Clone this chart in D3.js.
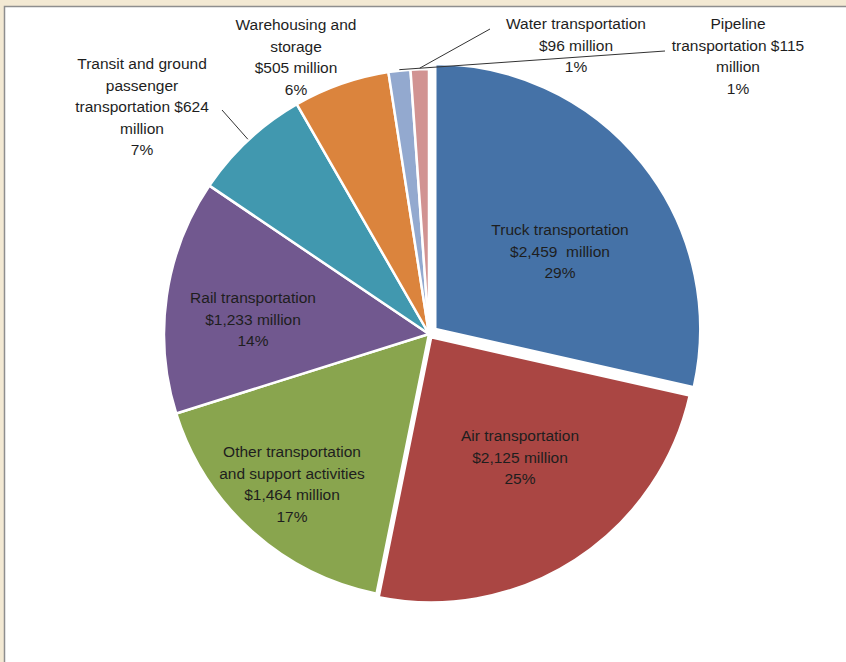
<!DOCTYPE html>
<html lang="en">
<head>
    <meta charset="UTF-8">
    <title>Transportation pie</title>
    <script src="https://d3js.org/d3.v7.min.js"></script>
    <style>
        body { margin: 0; background: #f3e9d3; }
        svg { display: block; }
    </style>
</head>
<body>
    <script>
        // data, clockwise from 12 o'clock
        const categories = ['Truck transportation', 'Air transportation', 'Other transportation and support activities',
            'Rail transportation', 'Transit and ground passenger transportation', 'Warehousing and storage',
            'Pipeline transportation', 'Water transportation'];
        const values = [2459, 2125, 1464, 1233, 624, 505, 115, 96];
        const percents = ['29%', '25%', '17%', '14%', '7%', '6%', '1%', '1%'];
        // label text as wrapped in the original chart
        const labelLines = [
            ['Truck transportation', '$2,459\u00a0 million', '29%'],
            ['Air transportation', '$2,125 million', '25%'],
            ['Other transportation', 'and support activities', '$1,464 million', '17%'],
            ['Rail transportation', '$1,233 million', '14%'],
            ['Transit and ground', 'passenger', 'transportation $624', 'million', '7%'],
            ['Warehousing and', 'storage', '$505 million', '6%'],
            ['Pipeline', 'transportation $115', 'million', '1%'],
            ['Water transportation', '$96 million', '1%']
        ];
        const colors = ['#4572a7', '#aa4643', '#89a54e', '#71588f', '#4198af', '#db843d', '#93a9cf', '#d19392'];

        const width = 846;
        const height = 662;
        const cx = 429, cy = 334, r = 265;

        const svg = d3.select('body')
            .append('svg')
            .attr('width', width)
            .attr('height', height);

        // white plot frame with grey edge
        svg.append('rect')
            .attr('x', 4.5).attr('y', 6.5)
            .attr('width', width).attr('height', height)
            .attr('fill', '#ffffff')
            .attr('stroke', '#8e8e8e')
            .attr('stroke-width', 1.5);

        const pie = d3.pie().sort(null).value(d => d);
        const arcs = pie(values);
        const arc = d3.arc().innerRadius(0).outerRadius(r);

        // small explode offsets per slice
        const explode = [8, 4, 0, 0, 0, 0, 0, 0];

        const g = svg.append('g').attr('transform', `translate(${cx},${cy})`);

        g.selectAll('path')
            .data(arcs)
            .enter()
            .append('path')
            .attr('d', arc)
            .attr('transform', (d, i) => {
                const a = (d.startAngle + d.endAngle) / 2;
                return `translate(${Math.sin(a) * explode[i]},${-Math.cos(a) * explode[i]})`;
            })
            .attr('fill', (d, i) => colors[i])
            .attr('stroke', '#ffffff')
            .attr('stroke-width', 2.5)
            .attr('stroke-linejoin', 'round');

        // label anchor (centre of first line) relative to the pie centre
        const labelAt = [
            [131, -104], [91, 102], [-137, 118], [-176, -36],
            [-287, -270], [-133, -309], [309, -310], [147, -310]
        ];
        const lineH = 21.5;

        // leader lines for the outside labels
        const leaders = [
            { i: 4, from: [-207, -224] },
            { i: 7, from: [61, -305] },
            { i: 6, from: [236, -283] }
        ];
        leaders.forEach(l => {
            const a = (arcs[l.i].startAngle + arcs[l.i].endAngle) / 2;
            g.append('line')
                .attr('x1', l.from[0]).attr('y1', l.from[1])
                .attr('x2', Math.sin(a) * (r + 1))
                .attr('y2', -Math.cos(a) * (r + 1))
                .attr('stroke', '#333')
                .attr('stroke-width', 1);
        });

        labelLines.forEach((lines, i) => {
            const t = g.append('text')
                .attr('text-anchor', 'middle')
                .attr('font-family', 'Liberation Sans, Arial, sans-serif')
                .attr('font-size', 15.5)
                .attr('fill', '#1e1e1e');
            lines.forEach((s, k) => {
                t.append('tspan')
                    .attr('x', labelAt[i][0])
                    .attr('y', labelAt[i][1] + k * lineH)
                    .attr('dy', '0.35em')
                    .text(s);
            });
        });
    </script>
</body>
</html>
